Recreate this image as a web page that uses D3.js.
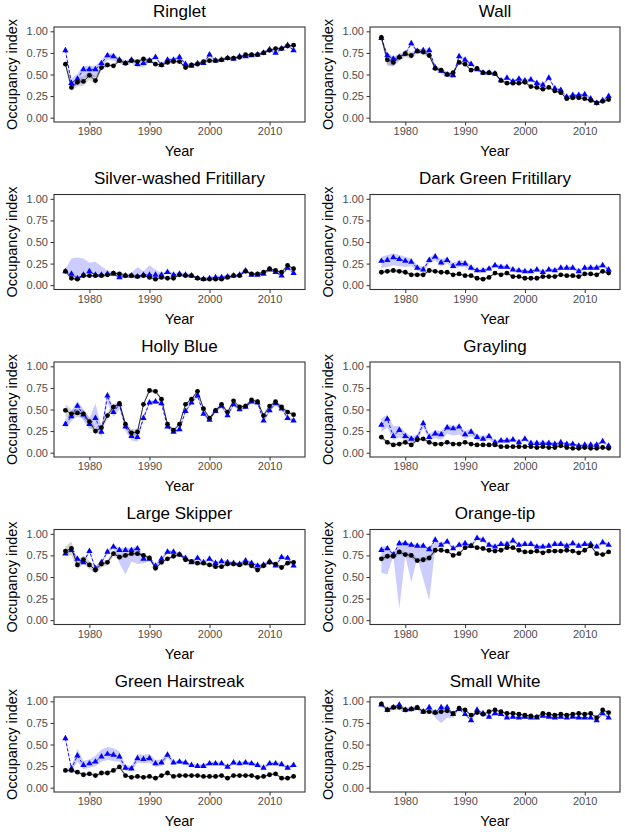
<!DOCTYPE html>
<html>
<head>
<meta charset="utf-8">
<script src="https://cdnjs.cloudflare.com/ajax/libs/d3/7.8.5/d3.min.js"></script>
<style>
  body { margin: 0; background: #fff; }
  text { font-family: "Liberation Sans", Arial, sans-serif; }
</style>
</head>
<body>
<script>
// Data
// =================================
var years = [1976, 1977, 1978, 1979, 1980, 1981, 1982, 1983, 1984, 1985,
  1986, 1987, 1988, 1989, 1990, 1991, 1992, 1993, 1994, 1995,
  1996, 1997, 1998, 1999, 2000, 2001, 2002, 2003, 2004, 2005,
  2006, 2007, 2008, 2009, 2010, 2011, 2012, 2013, 2014];
var xTicks = [1980, 1990, 2000, 2010];
var yTicks = [0, 0.25, 0.5, 0.75, 1];
var species = ["Ringlet", "Wall", "Silver-washed Fritillary", "Dark Green Fritillary",
  "Holly Blue", "Grayling", "Large Skipper", "Orange-tip", "Green Hairstreak", "Small White"];

// Ringlet
var ringletBlack = [0.62,0.35,0.41,0.42,0.49,0.43,0.58,0.61,0.60,0.66, 0.63,0.66,0.65,0.68,0.66,0.62,0.61,0.64,0.65,0.65, 0.58,0.61,0.62,0.65,0.66,0.66,0.67,0.69,0.69,0.70, 0.73,0.73,0.73,0.75,0.78,0.80,0.80,0.83,0.84];
var ringletBlackErr = [0.03,0.04,0.05,0.05,0.05,0.05,0.03,0.02,0.02,0.02, 0.02,0.02,0.02,0.02,0.02,0.02,0.02,0.02,0.02,0.02, 0.02,0.02,0.02,0.02,0.02,0.015,0.015,0.015,0.015,0.015, 0.015,0.015,0.015,0.015,0.015,0.015,0.015,0.015,0.015];
var ringletBlue = [0.78,0.40,0.45,0.56,0.56,0.56,0.63,0.72,0.71,0.67, 0.63,0.67,0.62,0.63,0.66,0.70,0.61,0.67,0.67,0.70, 0.62,0.60,0.63,0.63,0.73,0.66,0.67,0.69,0.68,0.71, 0.71,0.72,0.73,0.75,0.79,0.75,0.80,0.84,0.78];
var ringletBlueErrLo = [0.04,0.06,0.07,0.10,0.09,0.09,0.07,0.05,0.05,0.04, 0.03,0.04,0.04,0.04,0.02,0.02,0.02,0.02,0.02,0.02, 0.02,0.02,0.02,0.02,0.02,0.02,0.02,0.02,0.02,0.02, 0.02,0.02,0.02,0.02,0.02,0.02,0.02,0.02,0.02];
var ringletBlueErrHi = [0.03,0.05,0.06,0.04,0.04,0.04,0.04,0.03,0.03,0.02, 0.03,0.02,0.04,0.03,0.02,0.02,0.02,0.02,0.02,0.02, 0.02,0.02,0.02,0.02,0.02,0.02,0.02,0.02,0.02,0.02, 0.02,0.02,0.02,0.02,0.02,0.02,0.02,0.02,0.02];

// Wall
var wallBlack = [0.93,0.67,0.64,0.70,0.74,0.72,0.77,0.76,0.72,0.57, 0.55,0.50,0.52,0.64,0.62,0.55,0.57,0.52,0.52,0.51, 0.43,0.40,0.40,0.40,0.41,0.36,0.35,0.33,0.35,0.31, 0.29,0.22,0.23,0.23,0.22,0.20,0.17,0.19,0.21];
var wallBlackErr = [0.03,0.05,0.05,0.04,0.04,0.04,0.03,0.03,0.03,0.02, 0.02,0.02,0.02,0.02,0.02,0.015,0.015,0.015,0.015,0.015, 0.015,0.015,0.015,0.015,0.015,0.015,0.015,0.015,0.015,0.015, 0.015,0.015,0.015,0.015,0.015,0.015,0.015,0.015,0.015];
var wallBlue = [0.92,0.72,0.68,0.70,0.74,0.86,0.77,0.78,0.78,0.58, 0.54,0.50,0.49,0.71,0.67,0.62,0.56,0.52,0.52,0.51, 0.43,0.46,0.42,0.45,0.43,0.44,0.40,0.38,0.46,0.34, 0.32,0.24,0.26,0.26,0.27,0.22,0.17,0.20,0.25];
var wallBlueErrLo = [0.02,0.12,0.08,0.03,0.02,0.02,0.02,0.03,0.04,0.03, 0.03,0.03,0.03,0.02,0.02,0.02,0.02,0.02,0.02,0.02, 0.015,0.015,0.015,0.015,0.015,0.015,0.015,0.015,0.015,0.015, 0.015,0.015,0.015,0.015,0.015,0.015,0.015,0.015,0.015];
var wallBlueErrHi = [0.02,0.03,0.03,0.02,0.02,0.02,0.02,0.02,0.02,0.03, 0.03,0.03,0.03,0.02,0.02,0.02,0.02,0.02,0.02,0.02, 0.015,0.015,0.015,0.015,0.015,0.015,0.015,0.015,0.015,0.015, 0.015,0.015,0.015,0.015,0.015,0.015,0.015,0.015,0.015];

// Silver-washed Fritillary
var silverBlack = [0.16,0.08,0.07,0.11,0.11,0.11,0.11,0.12,0.14,0.13, 0.11,0.11,0.10,0.11,0.09,0.07,0.09,0.08,0.08,0.12, 0.11,0.11,0.08,0.07,0.07,0.07,0.07,0.09,0.11,0.11, 0.16,0.13,0.13,0.15,0.19,0.17,0.15,0.23,0.19];
var silverBlackErr = [0.015,0.015,0.015,0.015,0.015,0.015,0.015,0.015,0.015,0.015, 0.015,0.015,0.015,0.015,0.015,0.015,0.015,0.015,0.015,0.015, 0.015,0.015,0.015,0.015,0.015,0.015,0.015,0.015,0.015,0.015, 0.015,0.015,0.015,0.015,0.015,0.015,0.015,0.015,0.015];
var silverBlue = [0.16,0.13,0.08,0.12,0.16,0.12,0.12,0.13,0.13,0.09, 0.11,0.11,0.10,0.12,0.12,0.12,0.12,0.15,0.12,0.13, 0.12,0.11,0.08,0.07,0.08,0.09,0.09,0.10,0.11,0.12, 0.17,0.12,0.12,0.13,0.18,0.15,0.11,0.20,0.14];
var silverBlueErrLo = [0.015,0.015,0.015,0.015,0.015,0.015,0.015,0.015,0.015,0.015, 0.015,0.015,0.015,0.015,0.015,0.015,0.015,0.015,0.015,0.015, 0.015,0.015,0.015,0.015,0.015,0.015,0.015,0.015,0.015,0.015, 0.015,0.015,0.015,0.015,0.015,0.015,0.015,0.015,0.015];
var silverBlueErrHi = [0.03,0.18,0.24,0.19,0.10,0.15,0.10,0.04,0.02,0.06, 0.02,0.03,0.11,0.04,0.11,0.06,0.02,0.02,0.02,0.02, 0.02,0.02,0.02,0.02,0.02,0.02,0.02,0.02,0.02,0.02, 0.02,0.02,0.02,0.02,0.02,0.02,0.02,0.02,0.02];

// Dark Green Fritillary
var darkBlack = [0.15,0.16,0.17,0.16,0.15,0.12,0.12,0.12,0.17,0.16, 0.15,0.15,0.12,0.13,0.11,0.11,0.08,0.07,0.09,0.14, 0.12,0.14,0.10,0.10,0.08,0.08,0.08,0.10,0.10,0.10, 0.12,0.11,0.11,0.10,0.13,0.13,0.12,0.16,0.14];
var darkBlackErr = [0.02,0.02,0.02,0.02,0.02,0.02,0.02,0.02,0.02,0.02, 0.015,0.015,0.015,0.015,0.015,0.015,0.015,0.015,0.015,0.015, 0.015,0.015,0.015,0.015,0.015,0.015,0.015,0.015,0.015,0.015, 0.015,0.015,0.015,0.015,0.015,0.015,0.015,0.015,0.015];
var darkBlue = [0.28,0.29,0.32,0.30,0.28,0.27,0.20,0.18,0.29,0.33, 0.26,0.29,0.22,0.25,0.25,0.20,0.17,0.17,0.19,0.23, 0.21,0.21,0.18,0.17,0.16,0.16,0.18,0.15,0.18,0.17, 0.20,0.20,0.20,0.16,0.20,0.20,0.20,0.23,0.18];
var darkBlueErrLo = [0.08,0.08,0.09,0.08,0.07,0.05,0.03,0.03,0.04,0.04, 0.04,0.04,0.03,0.04,0.04,0.03,0.02,0.02,0.02,0.02, 0.02,0.02,0.02,0.02,0.02,0.02,0.02,0.02,0.02,0.02, 0.02,0.02,0.02,0.02,0.02,0.02,0.02,0.02,0.02];
var darkBlueErrHi = [0.05,0.06,0.05,0.05,0.05,0.04,0.03,0.03,0.03,0.03, 0.04,0.03,0.04,0.04,0.03,0.03,0.02,0.02,0.02,0.02, 0.02,0.02,0.02,0.02,0.02,0.02,0.02,0.02,0.02,0.02, 0.02,0.02,0.02,0.02,0.02,0.02,0.02,0.02,0.02];

// Holly Blue
var hollyBlack = [0.49,0.45,0.46,0.45,0.36,0.25,0.29,0.43,0.53,0.57, 0.33,0.23,0.24,0.56,0.72,0.71,0.62,0.33,0.26,0.33, 0.56,0.62,0.71,0.51,0.40,0.49,0.56,0.47,0.60,0.53, 0.54,0.61,0.59,0.43,0.54,0.59,0.53,0.47,0.44];
var hollyBlackErr = [0.07,0.05,0.05,0.05,0.05,0.04,0.04,0.04,0.03,0.03, 0.04,0.04,0.04,0.02,0.02,0.02,0.02,0.02,0.02,0.02, 0.02,0.02,0.02,0.02,0.02,0.02,0.02,0.02,0.02,0.02, 0.02,0.02,0.02,0.02,0.02,0.02,0.02,0.02,0.02];
var hollyBlue = [0.33,0.42,0.54,0.44,0.33,0.40,0.24,0.66,0.47,0.56, 0.30,0.19,0.18,0.40,0.58,0.59,0.57,0.30,0.24,0.27, 0.48,0.58,0.66,0.45,0.38,0.48,0.54,0.43,0.56,0.50, 0.53,0.59,0.58,0.37,0.49,0.57,0.51,0.40,0.37];
var hollyBlueErrLo = [0.05,0.06,0.07,0.07,0.06,0.10,0.06,0.08,0.06,0.05, 0.05,0.05,0.05,0.03,0.02,0.02,0.02,0.02,0.02,0.02, 0.02,0.02,0.02,0.02,0.02,0.02,0.02,0.02,0.02,0.02, 0.02,0.02,0.02,0.02,0.02,0.02,0.02,0.02,0.02];
var hollyBlueErrHi = [0.06,0.06,0.06,0.06,0.07,0.17,0.06,0.04,0.05,0.04, 0.05,0.05,0.05,0.03,0.02,0.02,0.02,0.02,0.02,0.02, 0.02,0.02,0.02,0.02,0.02,0.02,0.02,0.02,0.02,0.02, 0.02,0.02,0.02,0.02,0.02,0.02,0.02,0.02,0.02];

// Grayling
var grayBlack = [0.18,0.12,0.09,0.10,0.12,0.09,0.15,0.16,0.12,0.10, 0.10,0.12,0.10,0.10,0.12,0.10,0.09,0.09,0.09,0.09, 0.07,0.07,0.07,0.07,0.07,0.07,0.06,0.07,0.06,0.06, 0.08,0.06,0.05,0.05,0.06,0.05,0.05,0.06,0.05];
var grayBlackErr = [0.02,0.02,0.02,0.02,0.02,0.02,0.02,0.02,0.02,0.02, 0.015,0.015,0.015,0.015,0.015,0.015,0.015,0.015,0.015,0.015, 0.01,0.01,0.01,0.01,0.01,0.01,0.01,0.01,0.01,0.01, 0.01,0.01,0.01,0.01,0.01,0.01,0.01,0.01,0.01];
var grayBlue = [0.32,0.39,0.19,0.26,0.19,0.16,0.17,0.34,0.18,0.22, 0.21,0.29,0.28,0.30,0.21,0.24,0.18,0.16,0.19,0.12, 0.14,0.14,0.15,0.12,0.16,0.11,0.11,0.11,0.11,0.10, 0.12,0.10,0.10,0.08,0.09,0.09,0.09,0.13,0.08];
var grayBlueErrLo = [0.08,0.10,0.05,0.08,0.05,0.04,0.04,0.05,0.04,0.05, 0.06,0.07,0.08,0.09,0.05,0.05,0.04,0.03,0.04,0.02, 0.02,0.02,0.02,0.02,0.02,0.02,0.02,0.02,0.02,0.02, 0.015,0.015,0.015,0.015,0.015,0.015,0.015,0.015,0.015];
var grayBlueErrHi = [0.08,0.05,0.12,0.05,0.05,0.03,0.04,0.04,0.04,0.04, 0.04,0.04,0.03,0.02,0.04,0.04,0.03,0.03,0.03,0.02, 0.02,0.02,0.02,0.02,0.02,0.02,0.02,0.02,0.02,0.02, 0.015,0.015,0.015,0.015,0.015,0.015,0.015,0.015,0.015];

// Large Skipper
var skipBlack = [0.80,0.83,0.64,0.70,0.64,0.58,0.65,0.67,0.77,0.73, 0.75,0.77,0.77,0.75,0.72,0.60,0.67,0.71,0.74,0.76, 0.70,0.68,0.66,0.66,0.64,0.62,0.62,0.65,0.65,0.64, 0.66,0.63,0.58,0.63,0.67,0.65,0.61,0.66,0.67];
var skipBlackErr = [0.05,0.08,0.05,0.05,0.05,0.04,0.04,0.03,0.03,0.03, 0.02,0.02,0.02,0.02,0.02,0.02,0.02,0.02,0.02,0.02, 0.02,0.02,0.02,0.02,0.02,0.02,0.02,0.02,0.02,0.02, 0.02,0.02,0.02,0.02,0.02,0.02,0.02,0.02,0.02];
var skipBlue = [0.77,0.81,0.71,0.67,0.80,0.60,0.67,0.79,0.85,0.81, 0.81,0.81,0.83,0.71,0.71,0.63,0.71,0.79,0.79,0.76, 0.72,0.67,0.72,0.67,0.71,0.66,0.68,0.67,0.66,0.65, 0.69,0.66,0.63,0.64,0.68,0.63,0.73,0.72,0.63];
var skipBlueErrLo = [0.02,0.02,0.02,0.02,0.02,0.02,0.02,0.02,0.02,0.15, 0.28,0.13,0.18,0.05,0.03,0.02,0.02,0.02,0.02,0.02, 0.02,0.02,0.02,0.02,0.02,0.02,0.02,0.02,0.02,0.02, 0.02,0.02,0.02,0.02,0.02,0.02,0.02,0.02,0.02];
var skipBlueErrHi = [0.02,0.02,0.02,0.02,0.02,0.02,0.02,0.02,0.02,0.03, 0.03,0.03,0.03,0.03,0.02,0.02,0.02,0.02,0.02,0.02, 0.02,0.02,0.02,0.02,0.02,0.02,0.02,0.02,0.02,0.02, 0.02,0.02,0.02,0.02,0.02,0.02,0.02,0.02,0.02];

// Orange-tip
var orangeBlack = [0.71,0.74,0.74,0.79,0.76,0.75,0.69,0.70,0.72,0.81, 0.81,0.80,0.75,0.77,0.84,0.86,0.84,0.83,0.81,0.80, 0.81,0.84,0.84,0.81,0.79,0.79,0.80,0.78,0.80,0.80, 0.80,0.81,0.80,0.78,0.81,0.86,0.77,0.76,0.79];
var orangeBlackErr = [0.03,0.03,0.03,0.03,0.03,0.03,0.03,0.03,0.03,0.03, 0.015,0.015,0.015,0.015,0.015,0.015,0.015,0.015,0.015,0.015, 0.015,0.015,0.015,0.015,0.015,0.015,0.015,0.015,0.015,0.015, 0.015,0.015,0.015,0.015,0.015,0.015,0.015,0.015,0.015];
var orangeBlue = [0.81,0.83,0.76,0.89,0.89,0.87,0.86,0.86,0.82,0.93, 0.87,0.91,0.83,0.87,0.89,0.86,0.95,0.93,0.87,0.85, 0.88,0.88,0.92,0.87,0.88,0.88,0.85,0.85,0.86,0.88, 0.88,0.86,0.89,0.86,0.88,0.88,0.85,0.90,0.87];
var orangeBlueErrLo = [0.26,0.30,0.02,0.76,0.14,0.43,0.14,0.38,0.59,0.10, 0.02,0.02,0.02,0.02,0.02,0.02,0.02,0.02,0.02,0.02, 0.02,0.02,0.02,0.02,0.02,0.02,0.02,0.02,0.02,0.02, 0.02,0.02,0.02,0.02,0.02,0.02,0.02,0.02,0.02];
var orangeBlueErrHi = [0.04,0.03,0.02,0.02,0.02,0.02,0.02,0.02,0.02,0.02, 0.02,0.02,0.02,0.02,0.02,0.02,0.02,0.02,0.02,0.02, 0.02,0.02,0.02,0.02,0.02,0.02,0.02,0.02,0.02,0.02, 0.02,0.02,0.02,0.02,0.02,0.02,0.02,0.02,0.02];

// Green Hairstreak
var greenBlack = [0.20,0.20,0.18,0.15,0.16,0.14,0.17,0.17,0.20,0.24, 0.14,0.12,0.13,0.12,0.13,0.11,0.14,0.17,0.13,0.14, 0.14,0.14,0.14,0.13,0.13,0.13,0.14,0.11,0.14,0.14, 0.14,0.14,0.12,0.13,0.15,0.16,0.11,0.11,0.13];
var greenBlackErr = [0.02,0.02,0.02,0.02,0.02,0.02,0.02,0.02,0.02,0.02, 0.015,0.015,0.015,0.015,0.015,0.015,0.015,0.015,0.015,0.015, 0.015,0.015,0.015,0.015,0.015,0.015,0.015,0.015,0.015,0.015, 0.015,0.015,0.015,0.015,0.015,0.015,0.015,0.015,0.015];
var greenBlue = [0.57,0.22,0.37,0.26,0.28,0.30,0.36,0.39,0.38,0.36, 0.23,0.22,0.34,0.33,0.34,0.28,0.29,0.38,0.29,0.30, 0.29,0.26,0.25,0.25,0.28,0.28,0.28,0.24,0.29,0.28, 0.29,0.28,0.26,0.23,0.28,0.28,0.27,0.23,0.26];
var greenBlueErrLo = [0.03,0.03,0.07,0.05,0.05,0.05,0.06,0.07,0.07,0.06, 0.03,0.03,0.05,0.05,0.05,0.04,0.04,0.04,0.02,0.02, 0.02,0.02,0.02,0.02,0.02,0.02,0.02,0.02,0.02,0.02, 0.02,0.02,0.02,0.02,0.02,0.02,0.02,0.02,0.02];
var greenBlueErrHi = [0.03,0.03,0.08,0.05,0.05,0.07,0.08,0.08,0.08,0.06, 0.03,0.03,0.05,0.05,0.05,0.04,0.04,0.04,0.02,0.02, 0.02,0.02,0.02,0.02,0.02,0.02,0.02,0.02,0.02,0.02, 0.02,0.02,0.02,0.02,0.02,0.02,0.02,0.02,0.02];

// Small White
var whiteBlack = [0.97,0.90,0.93,0.93,0.90,0.91,0.93,0.88,0.88,0.87, 0.88,0.89,0.86,0.92,0.90,0.84,0.87,0.85,0.88,0.90, 0.88,0.86,0.86,0.85,0.84,0.83,0.82,0.86,0.85,0.84, 0.85,0.84,0.85,0.86,0.85,0.86,0.81,0.90,0.87];
var whiteBlackErr = [0.02,0.03,0.03,0.03,0.03,0.03,0.03,0.02,0.02,0.02, 0.015,0.015,0.015,0.015,0.015,0.015,0.015,0.015,0.015,0.015, 0.015,0.015,0.015,0.015,0.015,0.015,0.015,0.015,0.015,0.015, 0.015,0.015,0.015,0.015,0.015,0.015,0.015,0.015,0.015];
var whiteBlue = [0.96,0.90,0.93,0.96,0.90,0.91,0.92,0.88,0.93,0.87, 0.93,0.93,0.85,0.91,0.85,0.78,0.90,0.86,0.82,0.86, 0.85,0.81,0.82,0.81,0.82,0.81,0.81,0.83,0.82,0.81, 0.82,0.81,0.82,0.81,0.81,0.81,0.78,0.86,0.81];
var whiteBlueErrLo = [0.015,0.015,0.015,0.015,0.015,0.015,0.015,0.015,0.015,0.06, 0.18,0.12,0.04,0.015,0.015,0.015,0.015,0.015,0.015,0.015, 0.015,0.015,0.015,0.015,0.015,0.015,0.015,0.015,0.015,0.015, 0.015,0.015,0.015,0.015,0.015,0.015,0.015,0.015,0.015];
var whiteBlueErrHi = [0.015,0.015,0.015,0.015,0.015,0.015,0.015,0.015,0.015,0.015, 0.015,0.015,0.015,0.015,0.015,0.015,0.015,0.015,0.015,0.015, 0.015,0.015,0.015,0.015,0.015,0.015,0.015,0.015,0.015,0.015, 0.015,0.015,0.015,0.015,0.015,0.015,0.015,0.015,0.015];

// one entry per panel, built from the arrays above
var panels = [
  [ringletBlack, ringletBlackErr, ringletBlue, ringletBlueErrLo, ringletBlueErrHi],
  [wallBlack, wallBlackErr, wallBlue, wallBlueErrLo, wallBlueErrHi],
  [silverBlack, silverBlackErr, silverBlue, silverBlueErrLo, silverBlueErrHi],
  [darkBlack, darkBlackErr, darkBlue, darkBlueErrLo, darkBlueErrHi],
  [hollyBlack, hollyBlackErr, hollyBlue, hollyBlueErrLo, hollyBlueErrHi],
  [grayBlack, grayBlackErr, grayBlue, grayBlueErrLo, grayBlueErrHi],
  [skipBlack, skipBlackErr, skipBlue, skipBlueErrLo, skipBlueErrHi],
  [orangeBlack, orangeBlackErr, orangeBlue, orangeBlueErrLo, orangeBlueErrHi],
  [greenBlack, greenBlackErr, greenBlue, greenBlueErrLo, greenBlueErrHi],
  [whiteBlack, whiteBlackErr, whiteBlue, whiteBlueErrLo, whiteBlueErrHi]
].map(function(a, i) {
  return years.map(function(yr, j) {
    return {
      name: species[i], year: yr,
      black: a[0][j], blackLo: a[0][j] - a[1][j], blackHi: a[0][j] + a[1][j],
      blue: a[2][j], blueLo: a[2][j] - a[3][j], blueHi: a[2][j] + a[4][j]
    };
  });
});

// Layout
// =================================
var svgWidth = 625;
var svgHeight = 832;
var colLeft = [54, 370];
var colWidth = [251, 250];
var rowTop = [27, 194.5, 362, 529.5, 697];
var plotH = 95;

var svg = d3.select("body")
  .append("svg")
  .attr("width", svgWidth)
  .attr("height", svgHeight);

svg.append("rect")
  .attr("width", svgWidth)
  .attr("height", svgHeight)
  .attr("fill", "#fff");

var xPad = (d3.max(years) - d3.min(years)) * 0.05;

panels.forEach(function(data, i) {
  var col = i % 2;
  var row = Math.floor(i / 2);
  var w = colWidth[col];

  var g = svg.append("g")
    .attr("transform", `translate(${colLeft[col]}, ${rowTop[row]})`);

  var x = d3.scaleLinear()
    .domain([d3.min(years) - xPad, d3.max(years) + xPad])
    .range([0, w]);
  var y = d3.scaleLinear()
    .domain([-0.05, 1.05])
    .range([plotH, 0]);

  // ribbons
  g.append("path")
    .datum(data)
    .attr("fill", "#0000ff")
    .attr("fill-opacity", 0.2)
    .attr("d", d3.area().x(d => x(d.year)).y0(d => y(d.blueLo)).y1(d => y(d.blueHi)));

  g.append("path")
    .datum(data)
    .attr("fill", "#555")
    .attr("fill-opacity", 0.25)
    .attr("d", d3.area().x(d => x(d.year)).y0(d => y(d.blackLo)).y1(d => y(d.blackHi)));

  // lines
  g.append("path")
    .datum(data)
    .attr("fill", "none")
    .attr("stroke", "#0000ff")
    .attr("stroke-width", 0.9)
    .attr("stroke-dasharray", "3,2")
    .attr("d", d3.line().x(d => x(d.year)).y(d => y(d.blue)));

  g.append("path")
    .datum(data)
    .attr("fill", "none")
    .attr("stroke", "#000")
    .attr("stroke-width", 0.8)
    .attr("d", d3.line().x(d => x(d.year)).y(d => y(d.black)));

  // points
  g.selectAll(".tri")
    .data(data)
    .enter()
    .append("path")
    .attr("class", "tri")
    .attr("transform", d => `translate(${x(d.year)}, ${y(d.blue)})`)
    .attr("d", d3.symbol(d3.symbolTriangle, 17))
    .attr("fill", "#0000ff");

  g.selectAll(".dot")
    .data(data)
    .enter()
    .append("circle")
    .attr("class", "dot")
    .attr("cx", d => x(d.year))
    .attr("cy", d => y(d.black))
    .attr("r", 2.4)
    .attr("fill", "#000");

  // axes
  var xAxis = g.append("g")
    .attr("transform", `translate(0, ${plotH})`)
    .call(d3.axisBottom(x).tickValues(xTicks).tickFormat(d3.format("d")).tickSize(3.5).tickPadding(2));
  var yAxis = g.append("g")
    .call(d3.axisLeft(y).tickValues(yTicks).tickFormat(d3.format(".2f")).tickSize(3.5).tickPadding(2.5));

  [xAxis, yAxis].forEach(function(ax) {
    ax.select(".domain").remove();
    ax.selectAll("line").attr("stroke", "#333");
    ax.selectAll("text")
      .attr("fill", "#4d4d4d")
      .style("font-size", "11px")
      .style("font-family", "'Liberation Sans', Arial, sans-serif");
  });

  // panel border
  g.append("rect")
    .attr("width", w)
    .attr("height", plotH)
    .attr("fill", "none")
    .attr("stroke", "#333")
    .attr("stroke-width", 1.1);

  // titles
  g.append("text")
    .attr("x", w / 2)
    .attr("y", -10.5)
    .attr("text-anchor", "middle")
    .style("font-size", "17px")
    .text(species[i]);

  g.append("text")
    .attr("x", w / 2)
    .attr("y", plotH + 34)
    .attr("text-anchor", "middle")
    .style("font-size", "14.5px")
    .text("Year");

  g.append("text")
    .attr("transform", `translate(-37, ${plotH / 2}) rotate(-90)`)
    .attr("text-anchor", "middle")
    .style("font-size", "14.5px")
    .text("Occupancy index");
});
</script>
</body>
</html>
